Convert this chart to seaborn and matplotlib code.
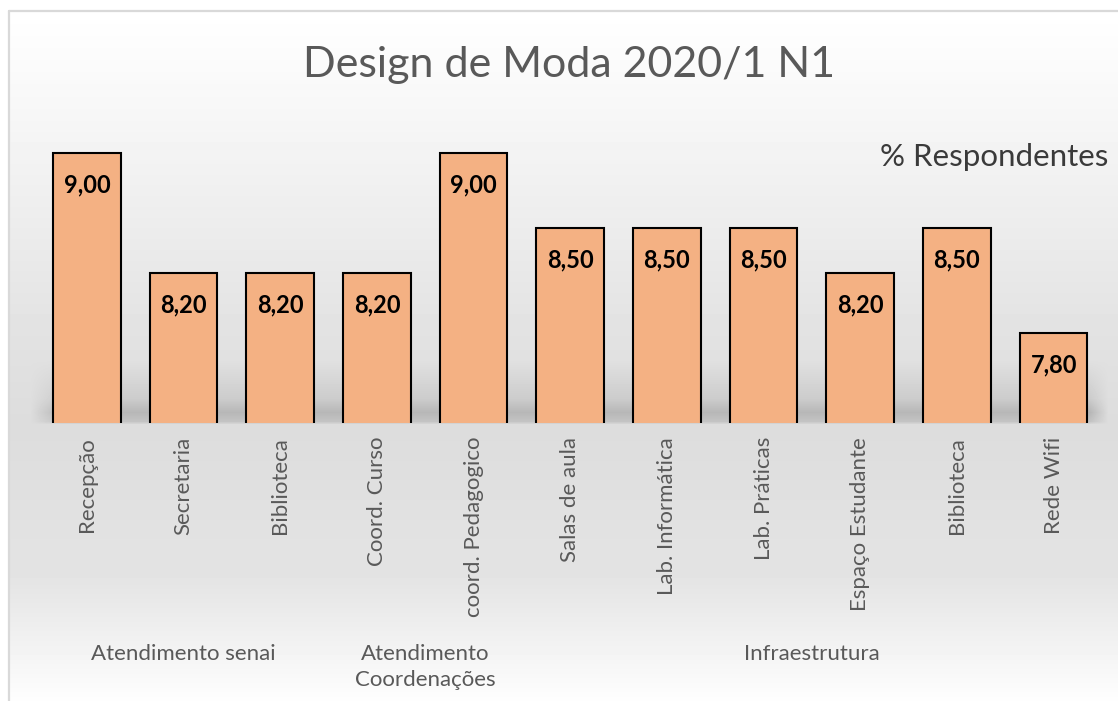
import numpy as np
import pandas as pd
import matplotlib
matplotlib.use('Agg')
import matplotlib.pyplot as plt
from matplotlib.lines import Line2D
import matplotlib.transforms as mtransforms
import seaborn as sns

# ── data ─────────────────────────────────────────────────────
items = ['Recepção', 'Secretaria', 'Biblioteca', 'Coord. Curso',
         'coord. Pedagogico', 'Salas de aula', 'Lab. Informática',
         'Lab. Práticas', 'Espaço Estudante', 'Biblioteca', 'Rede Wifi']
scores = [9.00, 8.20, 8.20, 8.20, 9.00, 8.50, 8.50, 8.50, 8.20, 8.50, 7.80]
groups = ['Atendimento senai', 'Atendimento\nCoordenações', 'Infraestrutura']
group_sizes = [3, 2, 6]

title = 'Design de Moda 2020/1 N1'
series_name = '% Respondentes'

df = pd.DataFrame({'pos': range(len(items)), 'item': items, 'score': scores})

sns.set_theme(style='white')
plt.rcParams['font.family'] = ['Lato', 'DejaVu Sans']

W, H = 1118, 701
fig = plt.figure(figsize=(W / 100, H / 100), dpi=100)
fig.patch.set_facecolor('white')

# ── background gradient (Excel-style chart area + floor shadow) ─
ys = np.arange(H)
xs = np.arange(W)
col = np.interp(ys, [0, 11, 120, 340, 423, 430, 580, 700],
                [1.0, 1.0, 0.965, 0.885, 0.865, 0.865, 0.895, 0.995])
img = np.tile(col[:, None], (1, W))
shadow = np.interp(ys, [360, 398, 412, 421, 424], [0.0, 0.07, 0.15, 0.10, 0.0])
xfade = np.interp(xs, [30, 60, 1090, 1108], [0.0, 1.0, 1.0, 0.0])
img = img - shadow[:, None] * xfade[None, :]
img[:11, :] = 1.0
img[:, :9] = 1.0
bg = fig.add_axes([0, 0, 1, 1], zorder=-1)
bg.imshow(img, cmap='gray', vmin=0, vmax=1, aspect='auto',
          extent=(0, W, H, 0), interpolation='bilinear')
bg.set_xlim(0, W)
bg.set_ylim(H, 0)
bg.axis('off')

# chart border (top + left visible)
fig.add_artist(Line2D([9 / W, 9 / W], [0, 1 - 11 / H], transform=fig.transFigure,
                      color='#d9d9d9', lw=1.6))
fig.add_artist(Line2D([9 / W, 1], [1 - 11 / H, 1 - 11 / H], transform=fig.transFigure,
                      color='#d9d9d9', lw=1.6))

# ── bars ─────────────────────────────────────────────────────
ax = fig.add_axes([38.6 / W, 1 - 423 / H, (1102 - 38.6) / W, (423 - 123) / H])
ax.patch.set_alpha(0)
sns.barplot(data=df, x='pos', y='score', color='#F4B183', width=0.70,
            edgecolor='black', linewidth=1.5, saturation=1, ax=ax)
ax.set_ylim(7.2, 9.2)
ax.set_xlim(-0.5, len(items) - 0.5)
ax.bar_label(ax.containers[0],
             labels=[f'{v:.2f}'.replace('.', ',') for v in scores],
             padding=-31, fontsize=17, fontweight='bold', color='black')

ax.set_xticks(range(len(items)))
ax.set_xticklabels(items, rotation=90, color='#595959', fontsize=16)
ax.tick_params(axis='x', length=0, pad=10)
ax.set_yticks([])
ax.set_xlabel('')
ax.set_ylabel('')
for s in ax.spines.values():
    s.set_visible(False)

# category group labels
trans = mtransforms.blended_transform_factory(ax.transData, fig.transFigure)
start = 0
for g, n in zip(groups, group_sizes):
    xc = start + (n - 1) / 2
    ax.text(xc, 1 - 644 / H, g, transform=trans, ha='center', va='top',
            fontsize=16, color='#595959', linespacing=1.4)
    start += n

fig.text(569 / W, 1 - 65 / H, title, ha='center', va='center',
         fontsize=31, color='#595959')
fig.text(1108 / W, 1 - 157 / H, series_name, ha='right', va='center',
         fontsize=22.5, color='#3a3a3a')

fig.savefig('out.png', dpi=100)
